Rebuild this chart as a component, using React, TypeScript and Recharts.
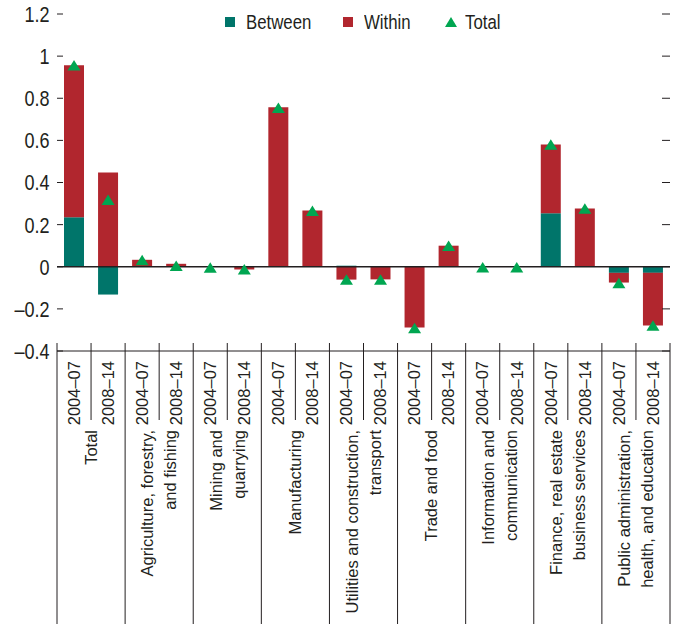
import React from 'react';
import { ComposedChart, Bar, Line, XAxis, YAxis, ReferenceLine, Legend } from 'recharts';

const periods = ['2004–07', '2008–14'];
const groupLabels: string[][] = [
  ['Total'],
  ['Agriculture, forestry,', 'and fishing'],
  ['Mining and', 'quarrying'],
  ['Manufacturing'],
  ['Utilities and construction,', 'transport'],
  ['Trade and food'],
  ['Information and', 'communication'],
  ['Finance, real estate', 'business services'],
  ['Public administration,', 'health, and education'],
];
const between = [0.235, -0.132, 0, 0, 0, 0, 0, 0, 0.005, 0, 0, 0, 0, 0, 0.254, 0, -0.029, -0.029];
const within = [0.722, 0.448, 0.033, 0.014, 0, -0.013, 0.757, 0.267, -0.061, -0.06, -0.289, 0.1, 0, 0, 0.327, 0.276, -0.046, -0.25];
const total = [0.956, 0.317, 0.031, 0.003, -0.005, -0.013, 0.754, 0.265, -0.062, -0.062, -0.292, 0.099, -0.003, -0.003, 0.579, 0.275, -0.078, -0.28];
const yTicks = [1.2, 1, 0.8, 0.6, 0.4, 0.2, 0, -0.2, -0.4];
const legendItems = [
  { label: 'Between', color: '#00756A', shape: 'square', width: 65 },
  { label: 'Within', color: '#B1262E', shape: 'square', width: 49 },
  { label: 'Total', color: '#00A651', shape: 'triangle', width: 37 },
];

const data = between.map((b, i) => ({
  key: String(i),
  between: b,
  within: within[i],
  total: total[i],
}));

const W = 673;
const H = 624;
const Y_AXIS_W = 57;
const RIGHT_AXIS_W = 3;
const TOP = 14;
const X_AXIS_H = 273;
const BAND = (W - Y_AXIS_W - RIGHT_AXIS_W) / data.length;

const TEAL = legendItems[0].color;
const RED = legendItems[1].color;
const GREEN = legendItems[2].color;
const INK = '#231F20';
const FONT = '"Liberation Sans", Arial, sans-serif';
const SQUEEZE = 0.82;

const fmt = (v: number) => (v < 0 ? '–' + String(Math.abs(v)) : String(v));

const LeftTick = (props: any) => {
  const { x, y, payload } = props;
  return (
    <g>
      <line x1={x} x2={x + 6} y1={y} y2={y} stroke={INK} strokeWidth={1} />
      <text
        transform={`translate(${x - 7.5}, ${y}) scale(${SQUEEZE}, 1)`}
        x={0}
        y={0}
        dy="0.36em"
        textAnchor="end"
        fill={INK}
        fontFamily={FONT}
        fontSize={22}
      >
        {fmt(payload.value)}
      </text>
    </g>
  );
};

const RightTick = (props: any) => {
  const { x, y } = props;
  return <line x1={x - 8} x2={x} y1={y} y2={y} stroke={INK} strokeWidth={1} />;
};

const XTick = (props: any) => {
  const { x, y, index, payload } = props;
  const i = typeof index === 'number' ? index : Number(payload.value);
  const left = x - BAND / 2;
  const right = x + BAND / 2;
  const groupStart = i % 2 === 0;
  const els: React.ReactNode[] = [];
  els.push(
    <line key="lb" x1={left} x2={left} y1={y - 8} y2={groupStart ? H : y + 69} stroke={INK} strokeWidth={1} />
  );
  if (i === data.length - 1) {
    els.push(<line key="rb" x1={right} x2={right} y1={y - 8} y2={H} stroke={INK} strokeWidth={1} />);
  }
  const py = y + 10;
  els.push(
    <text
      key="p"
      x={x}
      y={py}
      dy="0.35em"
      textAnchor="end"
      transform={`rotate(-90, ${x}, ${py})`}
      fill={INK}
      fontFamily={FONT}
      fontSize={16.5}
    >
      {periods[i % 2]}
    </text>
  );
  if (groupStart) {
    const lines = groupLabels[i / 2];
    const gx = right;
    const gy = y + 79;
    lines.forEach((ln, j) => {
      const lx = gx + (j - (lines.length - 1) / 2) * 23;
      els.push(
        <text
          key={'g' + j}
          x={lx}
          y={gy}
          dy="0.35em"
          textAnchor="end"
          transform={`rotate(-90, ${lx}, ${gy})`}
          fill={INK}
          fontFamily={FONT}
          fontSize={16.5}
        >
          {ln}
        </text>
      );
    });
  }
  return <g>{els}</g>;
};

const TriangleDot = (p: any) => {
  const { cx, cy, index } = p;
  if (cx == null || cy == null) return <g key={index} />;
  return <path key={index} d={`M${cx},${cy - 5.5} L${cx + 6.5},${cy + 5} L${cx - 6.5},${cy + 5} Z`} fill={GREEN} />;
};

const LegendContent = () => {
  return (
    <div style={{ display: 'flex', justifyContent: 'center', alignItems: 'center', height: 28 }}>
      {legendItems.map((it, k) => (
        <div key={it.label} style={{ display: 'flex', alignItems: 'center', marginRight: k < legendItems.length - 1 ? 32 : 0 }}>
          {it.shape === 'square' ? (
            <span style={{ display: 'inline-block', width: 10, height: 10, background: it.color }} />
          ) : (
            <svg width={12} height={10} style={{ display: 'block' }}>
              <path d="M6,0 L12,10 L0,10 Z" fill={it.color} />
            </svg>
          )}
          <span
            style={{
              display: 'inline-block',
              width: it.width,
              marginLeft: it.shape === 'square' ? 11 : 8,
              whiteSpace: 'nowrap',
              overflow: 'visible',
              height: 28,
            }}
          >
            <span
              style={{
                display: 'inline-block',
                fontFamily: FONT,
                fontSize: 20.5,
                lineHeight: '28px',
                color: INK,
                transform: `scaleX(${SQUEEZE})`,
                transformOrigin: 'left center',
              }}
            >
              {it.label}
            </span>
          </span>
        </div>
      ))}
    </div>
  );
};

export default function App() {
  return (
    <div style={{ position: 'absolute', left: 0, top: 0, width: W, height: H, background: '#fff' }}>
      <ComposedChart
        width={W}
        height={H}
        data={data}
        margin={{ top: TOP, right: 0, bottom: 0, left: 0 }}
        stackOffset="sign"
        barSize={20}
      >
        <XAxis
          dataKey="key"
          height={X_AXIS_H}
          interval={0}
          tickLine={false}
          tickSize={0}
          tickMargin={0}
          axisLine={{ stroke: INK, strokeWidth: 1 }}
          tick={<XTick />}
        />
        <YAxis
          width={Y_AXIS_W}
          domain={[-0.4, 1.2]}
          ticks={yTicks}
          interval={0}
          axisLine={false}
          tickLine={false}
          tickSize={0}
          tickMargin={0}
          tick={<LeftTick />}
          allowDataOverflow
        />
        <YAxis
          yAxisId="right"
          orientation="right"
          width={RIGHT_AXIS_W}
          domain={[-0.4, 1.2]}
          ticks={yTicks}
          interval={0}
          axisLine={false}
          tickLine={false}
          tickSize={0}
          tickMargin={0}
          tick={<RightTick />}
          allowDataOverflow
        />
        <Legend
          verticalAlign="middle"
          align="center"
          layout="horizontal"
          wrapperStyle={{ top: 8, left: Y_AXIS_W, width: W - Y_AXIS_W - RIGHT_AXIS_W, height: 28 }}
          content={() => <LegendContent />}
        />
        <Bar dataKey="between" stackId="a" fill={TEAL} isAnimationActive={false} legendType="none" />
        <Bar dataKey="within" stackId="a" fill={RED} isAnimationActive={false} legendType="none" />
        <ReferenceLine y={0} stroke={INK} strokeWidth={1.5} />
        <Line
          dataKey="total"
          stroke="none"
          dot={TriangleDot}
          activeDot={false}
          isAnimationActive={false}
          legendType="none"
        />
      </ComposedChart>
    </div>
  );
}
